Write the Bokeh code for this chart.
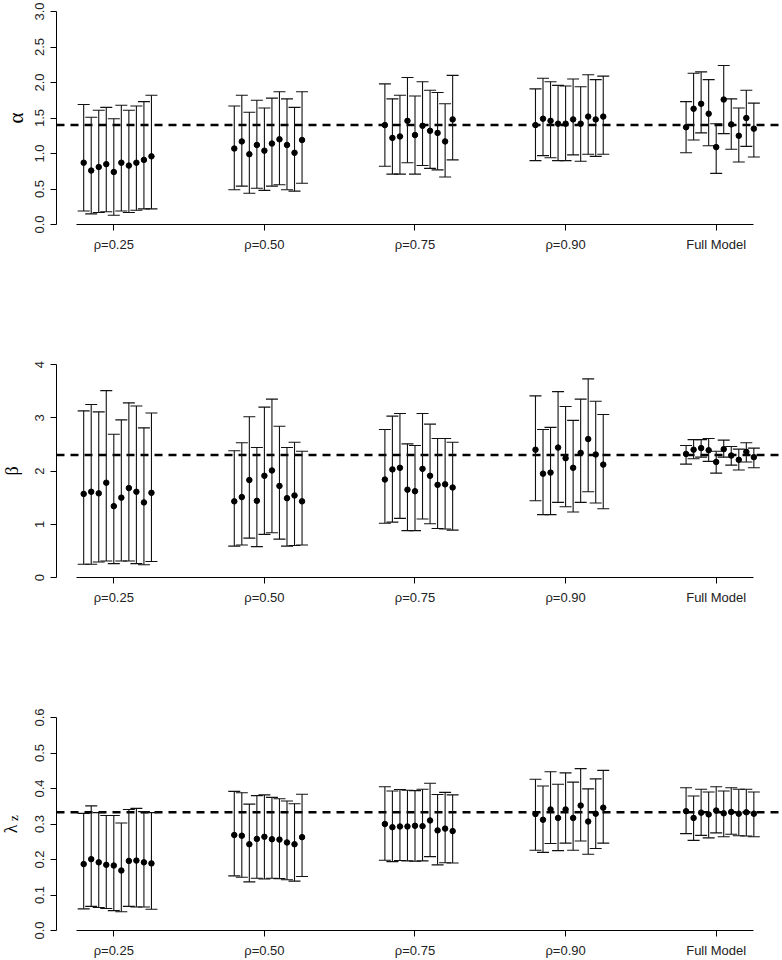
from math import pi
from bokeh.plotting import figure
from bokeh.layouts import column, row
from bokeh.models import (Range1d, FixedTicker, Span, Whisker, TeeHead,
                          ColumnDataSource, NumeralTickFormatter)
from bokeh.core.properties import value
from bokeh.embed import file_html
from bokeh.resources import INLINE

# ---------------- data ----------------
categories = ["ρ=0.25", "ρ=0.50", "ρ=0.75", "ρ=0.90", "Full Model"]

alpha_true = 1.4
alpha_est = [
    [0.87, 0.76, 0.81, 0.85, 0.74, 0.87, 0.83, 0.87, 0.91, 0.96],
    [1.07, 1.17, 0.99, 1.12, 1.04, 1.14, 1.20, 1.12, 1.01, 1.19],
    [1.40, 1.22, 1.24, 1.46, 1.26, 1.39, 1.32, 1.29, 1.17, 1.48],
    [1.40, 1.49, 1.46, 1.42, 1.42, 1.48, 1.42, 1.52, 1.48, 1.52],
    [1.37, 1.63, 1.70, 1.56, 1.09, 1.76, 1.41, 1.25, 1.50, 1.35],
]
alpha_upper = [
    [1.69, 1.51, 1.61, 1.65, 1.49, 1.68, 1.61, 1.67, 1.73, 1.82],
    [1.67, 1.82, 1.58, 1.75, 1.64, 1.78, 1.87, 1.77, 1.65, 1.87],
    [1.98, 1.77, 1.82, 2.07, 1.81, 2.01, 1.89, 1.86, 1.70, 2.10],
    [1.91, 2.06, 2.01, 1.96, 1.95, 2.05, 1.94, 2.11, 2.04, 2.09],
    [1.73, 2.13, 2.15, 2.04, 1.42, 2.24, 1.77, 1.64, 1.89, 1.71],
]
alpha_lower = [
    [0.19, 0.15, 0.17, 0.18, 0.13, 0.19, 0.17, 0.20, 0.22, 0.22],
    [0.49, 0.54, 0.44, 0.51, 0.48, 0.54, 0.56, 0.49, 0.47, 0.58],
    [0.82, 0.71, 0.71, 0.87, 0.71, 0.83, 0.79, 0.77, 0.67, 0.91],
    [0.90, 0.97, 0.94, 0.90, 0.90, 0.98, 0.89, 0.99, 0.96, 0.99],
    [1.01, 1.19, 1.29, 1.11, 0.72, 1.28, 1.06, 0.88, 1.10, 0.95],
]
alpha_ticks = [0.0, 0.5, 1.0, 1.5, 2.0, 2.5, 3.0]

beta_true = 2.3
beta_est = [
    [1.57, 1.61, 1.58, 1.78, 1.34, 1.50, 1.68, 1.61, 1.41, 1.59],
    [1.43, 1.51, 1.83, 1.44, 1.91, 2.01, 1.72, 1.49, 1.54, 1.43],
    [1.84, 2.03, 2.06, 1.65, 1.62, 2.04, 1.91, 1.74, 1.75, 1.69],
    [2.40, 1.95, 1.97, 2.44, 2.24, 2.06, 2.34, 2.60, 2.31, 2.12],
    [2.32, 2.40, 2.43, 2.39, 2.17, 2.41, 2.29, 2.21, 2.36, 2.26],
]
beta_upper = [
    [3.13, 3.25, 3.11, 3.51, 2.69, 2.96, 3.28, 3.22, 2.81, 3.09],
    [2.38, 2.53, 3.02, 2.44, 3.20, 3.35, 2.84, 2.44, 2.54, 2.37],
    [2.78, 3.03, 3.08, 2.51, 2.48, 3.08, 2.88, 2.61, 2.61, 2.54],
    [3.41, 2.78, 2.82, 3.49, 3.21, 2.95, 3.35, 3.73, 3.31, 3.06],
    [2.48, 2.59, 2.59, 2.61, 2.37, 2.58, 2.46, 2.41, 2.53, 2.43],
]
beta_lower = [
    [0.25, 0.25, 0.29, 0.31, 0.26, 0.31, 0.31, 0.26, 0.24, 0.30],
    [0.59, 0.61, 0.74, 0.58, 0.81, 0.84, 0.72, 0.59, 0.60, 0.61],
    [1.02, 1.04, 1.11, 0.88, 0.88, 1.10, 1.01, 0.92, 0.91, 0.89],
    [1.44, 1.18, 1.18, 1.41, 1.33, 1.23, 1.41, 1.61, 1.40, 1.29],
    [2.13, 2.23, 2.26, 2.18, 1.96, 2.26, 2.11, 2.02, 2.17, 2.06],
]
beta_ticks = [0, 1, 2, 3, 4]

lambda_true = 1 / 3
lambda_est = [
    [0.187, 0.201, 0.192, 0.185, 0.183, 0.169, 0.196, 0.197, 0.192, 0.189],
    [0.269, 0.267, 0.243, 0.258, 0.264, 0.257, 0.256, 0.248, 0.243, 0.263],
    [0.300, 0.291, 0.293, 0.293, 0.295, 0.294, 0.310, 0.282, 0.287, 0.280],
    [0.328, 0.312, 0.341, 0.317, 0.341, 0.317, 0.352, 0.307, 0.329, 0.346],
    [0.336, 0.317, 0.332, 0.327, 0.338, 0.330, 0.334, 0.329, 0.333, 0.329],
]
lambda_upper = [
    [0.330, 0.351, 0.332, 0.324, 0.324, 0.303, 0.341, 0.344, 0.335, 0.332],
    [0.392, 0.388, 0.356, 0.380, 0.382, 0.375, 0.371, 0.365, 0.357, 0.384],
    [0.405, 0.393, 0.397, 0.395, 0.394, 0.398, 0.415, 0.383, 0.389, 0.382],
    [0.426, 0.407, 0.447, 0.412, 0.444, 0.418, 0.456, 0.399, 0.427, 0.451],
    [0.402, 0.379, 0.398, 0.390, 0.405, 0.393, 0.402, 0.398, 0.398, 0.390],
]
lambda_lower = [
    [0.061, 0.068, 0.065, 0.062, 0.056, 0.053, 0.068, 0.066, 0.066, 0.060],
    [0.154, 0.150, 0.137, 0.147, 0.145, 0.147, 0.146, 0.143, 0.139, 0.152],
    [0.198, 0.194, 0.197, 0.196, 0.195, 0.196, 0.208, 0.185, 0.191, 0.190],
    [0.226, 0.220, 0.245, 0.225, 0.246, 0.226, 0.252, 0.215, 0.231, 0.246],
    [0.273, 0.254, 0.268, 0.261, 0.275, 0.264, 0.271, 0.267, 0.266, 0.264],
]
lambda_ticks = [0.0, 0.1, 0.2, 0.3, 0.4, 0.5, 0.6]

# ---------------- styling / layout ----------------
FONT = "Liberation Sans"
SYM_FONT = "Liberation Serif"
LAB_W = 26           # width of the strip that carries the rotated y titles
MAIN_W = 782 - LAB_W
STEP = 0.05          # horizontal spacing of the replicates inside a group
X_RANGE = (-0.3805, 4.427)
BAR_COLOR = "#111111"


def make_panel(est, lower, upper, true_val, ticks, fmt, height, top, bottom,
               sym_labels):
    yr = Range1d(ticks[0], ticks[-1])
    p = figure(width=MAIN_W, height=height, output_backend="svg",
               toolbar_location=None,
               x_range=Range1d(*X_RANGE), y_range=yr,
               min_border_left=30, min_border_right=2,
               min_border_top=top, min_border_bottom=bottom)
    p.outline_line_color = None
    p.background_fill_color = "white"
    p.xgrid.visible = False
    p.ygrid.visible = False

    xs, ys, los, his = [], [], [], []
    for g, (e, lo, hi) in enumerate(zip(est, lower, upper)):
        for j in range(len(e)):
            xs.append(g + (j - 4) * STEP)
            ys.append(e[j])
            los.append(lo[j])
            his.append(hi[j])
    src = ColumnDataSource(dict(x=xs, y=ys, lower=los, upper=his))

    p.add_layout(Span(location=true_val, dimension="width", line_color="black",
                      line_width=2.5, line_dash="8 6", level="underlay"))

    w = Whisker(source=src, base="x", lower="lower", upper="upper",
                dimension="height", line_color=BAR_COLOR, line_width=1.1,
                level="underlay",
                upper_head=TeeHead(size=12, line_color=BAR_COLOR, line_width=1.1),
                lower_head=TeeHead(size=12, line_color=BAR_COLOR, line_width=1.1))
    p.add_layout(w)
    p.scatter("x", "y", source=src, size=5.5, color="black")

    for ax in (p.xaxis[0], p.yaxis[0]):
        ax.axis_line_color = "black"
        ax.axis_line_width = 1
        ax.major_tick_line_color = "black"
        ax.major_tick_out = 6
        ax.major_tick_in = 0
        ax.minor_tick_line_color = None
        ax.major_label_text_font = FONT
        ax.major_label_text_font_size = "13px"
        ax.major_label_text_color = "#222222"

    p.xaxis.ticker = FixedTicker(ticks=list(range(len(categories))))
    p.xaxis.major_label_overrides = {i: c for i, c in enumerate(categories)}
    p.xaxis.bounds = (-0.25, 4.25)
    p.xaxis.major_label_standoff = 6

    p.yaxis.ticker = FixedTicker(ticks=ticks)
    p.yaxis.formatter = NumeralTickFormatter(format=fmt)
    p.yaxis.major_label_orientation = "vertical"
    p.yaxis.major_label_standoff = 7

    # narrow strip on the left carrying the rotated parameter symbol
    lab = figure(width=LAB_W, height=height, output_backend="svg",
                 toolbar_location=None, x_axis_type=None, y_axis_type=None,
                 x_range=Range1d(0, LAB_W), y_range=yr,
                 min_border_left=0, min_border_right=0,
                 min_border_top=top, min_border_bottom=bottom)
    lab.outline_line_color = None
    lab.xgrid.visible = False
    lab.ygrid.visible = False
    ymid = (ticks[0] + ticks[-1]) / 2
    for (txt, sx, dy, size) in sym_labels:
        lab.text(x=[sx], y=[ymid], text=[txt], angle=pi / 2,
                 text_align="center", text_baseline="middle", y_offset=dy,
                 text_font=value(SYM_FONT), text_font_size=value(size),
                 text_color="black")
    return row(lab, p, spacing=0)


r1 = make_panel(alpha_est, alpha_lower, alpha_upper, alpha_true, alpha_ticks,
                "0.0", 353, 11, 129, [("α", 15, 0, "21px")])
r2 = make_panel(beta_est, beta_lower, beta_upper, beta_true, beta_ticks,
                "0", 353, 11, 129, [("β", 11, 0, "18px")])
r3 = make_panel(lambda_est, lambda_lower, lambda_upper, lambda_true,
                lambda_ticks, "0.0", 254, 11, 30,
                [("λ", 10, 5, "18px"), ("z", 13, -6, "13px")])

layout = column(r1, r2, r3, spacing=0)

open("out.html", "w").write(file_html(layout, INLINE))
